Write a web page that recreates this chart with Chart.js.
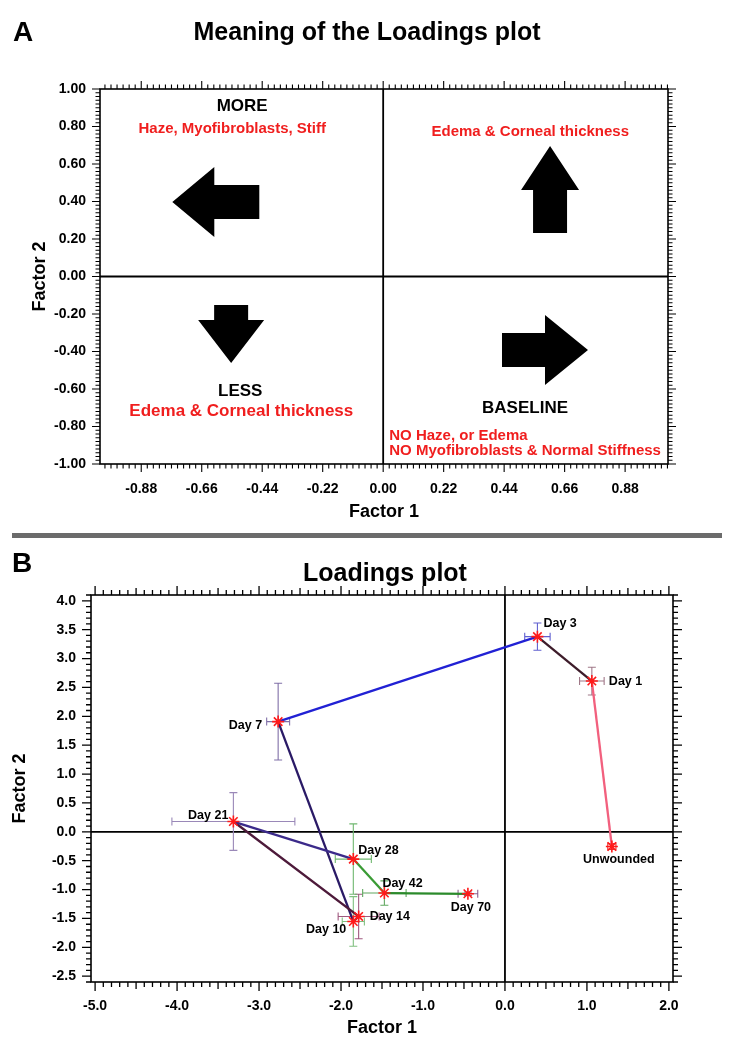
<!DOCTYPE html>
<html><head><meta charset="utf-8">
<script src="https://cdn.jsdelivr.net/npm/chart.js@4.4.1/dist/chart.umd.min.js"></script>
<style>
html,body{margin:0;padding:0;background:#fff;}
#wrap{position:relative;width:738px;height:1050px;overflow:hidden;background:#fff;}
#cA{position:absolute;left:0;top:0;}
#cB{position:absolute;left:0;top:540px;}
#sep{position:absolute;left:12px;top:533px;width:710px;height:5px;background:#6b6b6b;}
</style></head><body>
<div id="wrap">
<canvas id="cA" width="738" height="530"></canvas>
<div id="sep"></div>
<canvas id="cB" width="738" height="510"></canvas>
</div>
<script>
// ---------- Panel A data ----------
const aXTicks = [-0.88, -0.66, -0.44, -0.22, 0.00, 0.22, 0.44, 0.66, 0.88];
const aYTicks = [-1.00, -0.80, -0.60, -0.40, -0.20, 0.00, 0.20, 0.40, 0.60, 0.80, 1.00];
const aArrowDir  = ['left', 'up', 'down', 'right'];
const aArrowTipX = [-0.767, 0.607, -0.553, 0.745];
const aArrowTipY = [0.397, 0.696, -0.461, -0.392];
const aNotes = ['MORE', 'Haze, Myofibroblasts, Stiff', 'Edema & Corneal thickness', 'LESS',
                'Edema & Corneal thickness', 'BASELINE', 'NO Haze, or Edema', 'NO Myofibroblasts & Normal Stiffness'];
const aNoteX = [-0.513, -0.549, 0.535, -0.520, -0.516, 0.516, 0.022, 0.022];
const aNoteY = [0.909, 0.787, 0.771, -0.611, -0.717, -0.701, -0.851, -0.931];

// ---------- Panel B data ----------
const bLabels = ['Unwounded', 'Day 1', 'Day 3', 'Day 7', 'Day 10', 'Day 14', 'Day 21', 'Day 28', 'Day 42', 'Day 70'];
const bFactor1 = [1.304, 1.060, 0.396, -2.767, -1.850, -1.785, -3.313, -1.850, -1.471, -0.452];
const bFactor2 = [-0.254, 2.610, 3.379, 1.908, -1.552, -1.465, 0.178, -0.472, -1.060, -1.073];
const bFactor1Err = [0.05, 0.15, 0.155, 0.14, 0.135, 0.25, 0.75, 0.22, 0.265, 0.12];
const bFactor2Err = [0.05, 0.24, 0.235, 0.665, 0.43, 0.385, 0.50, 0.61, 0.21, 0.03];
const bXTicks = [-5.0, -4.0, -3.0, -2.0, -1.0, 0.0, 1.0, 2.0];
const bYTicks = [-2.5, -2.0, -1.5, -1.0, -0.5, 0.0, 0.5, 1.0, 1.5, 2.0, 2.5, 3.0, 3.5, 4.0];

// ---------- styles ----------
const FONT = '"Liberation Sans", Arial, Helvetica, sans-serif';
const RED = '#f01e1e';
const arrowStyle = [
  {len: 87, head: 42, headHalf: 35, shaftHalf: 17},
  {len: 87, head: 44, headHalf: 29, shaftHalf: 17},
  {len: 58, head: 43, headHalf: 33, shaftHalf: 17},
  {len: 86, head: 43, headHalf: 35, shaftHalf: 17}
];
const noteStyle = [
  {color: '#000', size: 17, align: 'center'},
  {color: RED, size: 15, align: 'center'},
  {color: RED, size: 15, align: 'center'},
  {color: '#000', size: 17, align: 'center'},
  {color: RED, size: 17, align: 'center'},
  {color: '#000', size: 17, align: 'center'},
  {color: RED, size: 15, align: 'left'},
  {color: RED, size: 15, align: 'left'}
];
const segColors = ['#f2607e', '#3d1c2a', '#2121d4', '#2a1a66', '#4d1a3a', '#4d1a3a', '#3b2a8a', '#3a9b35', '#2b8a2b'];
const errColors = ['#e83030', '#a07888', '#6060d0', '#8070a8', '#80c080', '#a05a80', '#9a88b8', '#70b870', '#60a860', '#8a6090'];
const labelOffsets = [
  {dx: 7, dy: 13, align: 'center'},
  {dx: 17, dy: 0, align: 'left'},
  {dx: 6, dy: -13, align: 'left'},
  {dx: -16, dy: 4, align: 'right'},
  {dx: -7, dy: 8, align: 'right'},
  {dx: 11, dy: 0, align: 'left'},
  {dx: -5, dy: -6, align: 'right'},
  {dx: 5, dy: -9, align: 'left'},
  {dx: -2, dy: -10, align: 'left'},
  {dx: 3, dy: 14, align: 'center'}
];

// ---------- helpers ----------
function multiples(min, max, step) {
  const out = [];
  const k0 = Math.ceil(min / step - 1e-9), k1 = Math.floor(max / step + 1e-9);
  for (let k = k0; k <= k1; k++) out.push(k * step);
  return out;
}
function isMult(v, step) { const r = v / step; return Math.abs(r - Math.round(r)) < 1e-6; }

const frameTicks = {
  id: 'frameTicks',
  beforeDatasetsDraw(chart, args, o) {
    const {ctx, chartArea: a, scales: {x, y}} = chart;
    ctx.save();
    ctx.strokeStyle = '#000';
    ctx.lineWidth = o.zeroWidth;
    const px = x.getPixelForValue(0), py = y.getPixelForValue(0);
    ctx.beginPath();
    ctx.moveTo(px, a.top); ctx.lineTo(px, a.bottom);
    ctx.moveTo(a.left, py); ctx.lineTo(a.right, py);
    ctx.stroke();
    ctx.restore();
  },
  afterDatasetsDraw(chart, args, o) {
    const {ctx, chartArea: a, scales: {x, y}} = chart;
    ctx.save();
    ctx.strokeStyle = '#000';
    ctx.lineWidth = o.tickWidth;
    ctx.beginPath();
    multiples(x.min, x.max, o.xMinor).forEach(v => {
      const p = x.getPixelForValue(v);
      const L = isMult(v, o.xMajor) ? o.majorLen : (o.xMid && isMult(v, o.xMid) ? o.midLen : o.minorLen);
      ctx.moveTo(p, a.bottom); ctx.lineTo(p, a.bottom + L);
      ctx.moveTo(p, a.top); ctx.lineTo(p, a.top - L);
    });
    multiples(y.min, y.max, o.yMinor).forEach(v => {
      const p = y.getPixelForValue(v);
      const L = isMult(v, o.yMajor) ? o.majorLen : o.minorLen;
      ctx.moveTo(a.left, p); ctx.lineTo(a.left - L, p);
      ctx.moveTo(a.right, p); ctx.lineTo(a.right + L, p);
    });
    ctx.stroke();
    ctx.lineWidth = o.frameWidth;
    ctx.strokeRect(a.left, a.top, a.right - a.left, a.bottom - a.top);
    ctx.restore();
  }
};

const figureText = {
  id: 'figureText',
  afterDraw(chart, args, o) {
    const ctx = chart.ctx;
    ctx.save();
    ctx.fillStyle = '#000';
    ctx.textBaseline = 'middle';
    ctx.textAlign = 'center';
    ctx.font = 'bold 28px ' + FONT;
    ctx.fillText(o.letter, o.letterX, o.letterY);
    ctx.font = 'bold 25px ' + FONT;
    ctx.fillText(o.title, o.titleX, o.titleY);
    ctx.restore();
  }
};

const arrowsNotes = {
  id: 'arrowsNotes',
  afterDatasetsDraw(chart) {
    const {ctx, scales: {x, y}} = chart;
    ctx.save();
    ctx.fillStyle = '#000';
    aArrowDir.forEach((dir, i) => {
      const s = arrowStyle[i];
      const tx = x.getPixelForValue(aArrowTipX[i]), ty = y.getPixelForValue(aArrowTipY[i]);
      const d = {left: [-1, 0], right: [1, 0], up: [0, -1], down: [0, 1]}[dir];
      const n = [-d[1], d[0]];
      const bx = tx - d[0] * s.head, by = ty - d[1] * s.head;
      const ex = tx - d[0] * s.len, ey = ty - d[1] * s.len;
      ctx.beginPath();
      ctx.moveTo(tx, ty);
      ctx.lineTo(bx + n[0] * s.headHalf, by + n[1] * s.headHalf);
      ctx.lineTo(bx + n[0] * s.shaftHalf, by + n[1] * s.shaftHalf);
      ctx.lineTo(ex + n[0] * s.shaftHalf, ey + n[1] * s.shaftHalf);
      ctx.lineTo(ex - n[0] * s.shaftHalf, ey - n[1] * s.shaftHalf);
      ctx.lineTo(bx - n[0] * s.shaftHalf, by - n[1] * s.shaftHalf);
      ctx.lineTo(bx - n[0] * s.headHalf, by - n[1] * s.headHalf);
      ctx.closePath();
      ctx.fill();
    });
    ctx.textBaseline = 'middle';
    aNotes.forEach((t, i) => {
      const s = noteStyle[i];
      ctx.fillStyle = s.color;
      ctx.textAlign = s.align;
      ctx.font = 'bold ' + s.size + 'px ' + FONT;
      ctx.fillText(t, x.getPixelForValue(aNoteX[i]), y.getPixelForValue(aNoteY[i]));
    });
    ctx.restore();
  }
};

const errorBars = {
  id: 'errorBars',
  beforeDatasetsDraw(chart) {
    const {ctx, scales: {x, y}} = chart;
    ctx.save();
    ctx.lineWidth = 1.1;
    bLabels.forEach((lab, i) => {
      const cx = x.getPixelForValue(bFactor1[i]), cy = y.getPixelForValue(bFactor2[i]);
      const x1 = x.getPixelForValue(bFactor1[i] - bFactor1Err[i]);
      const x2 = x.getPixelForValue(bFactor1[i] + bFactor1Err[i]);
      const y1 = y.getPixelForValue(bFactor2[i] + bFactor2Err[i]);
      const y2 = y.getPixelForValue(bFactor2[i] - bFactor2Err[i]);
      const cap = 4;
      ctx.strokeStyle = errColors[i];
      ctx.beginPath();
      ctx.moveTo(x1, cy); ctx.lineTo(x2, cy);
      ctx.moveTo(x1, cy - cap); ctx.lineTo(x1, cy + cap);
      ctx.moveTo(x2, cy - cap); ctx.lineTo(x2, cy + cap);
      ctx.moveTo(cx, y1); ctx.lineTo(cx, y2);
      ctx.moveTo(cx - cap, y1); ctx.lineTo(cx + cap, y1);
      ctx.moveTo(cx - cap, y2); ctx.lineTo(cx + cap, y2);
      ctx.stroke();
    });
    ctx.restore();
  },
  afterDatasetsDraw(chart) {
    const {ctx} = chart;
    const meta = chart.getDatasetMeta(0);
    ctx.save();
    ctx.fillStyle = '#000';
    ctx.textBaseline = 'middle';
    ctx.font = 'bold 12.5px ' + FONT;
    bLabels.forEach((lab, i) => {
      const el = meta.data[i];
      const o = labelOffsets[i];
      ctx.textAlign = o.align;
      ctx.fillText(lab, el.x + o.dx, el.y + o.dy);
    });
    ctx.restore();
  }
};

function axis(opts) {
  return {
    type: 'linear',
    min: opts.min, max: opts.max,
    afterBuildTicks: s => { s.ticks = opts.ticks.map(v => ({value: v})); },
    afterFit: s => { if (opts.width != null) s.width = opts.width; if (opts.height != null) s.height = opts.height; },
    grid: {display: false, drawTicks: false},
    border: {display: false},
    ticks: {
      autoSkip: false, maxRotation: 0, minRotation: 0,
      padding: opts.pad,
      color: '#000',
      font: {family: FONT, size: 14, weight: 'bold'},
      callback: v => Number(v).toFixed(opts.dec)
    },
    title: {
      display: true, text: opts.title, color: '#000',
      font: {family: FONT, size: 18, weight: 'bold'},
      padding: opts.titlePad
    }
  };
}

// ---------- Chart A ----------
new Chart(document.getElementById('cA'), {
  type: 'scatter',
  data: {datasets: []},
  options: {
    responsive: false, animation: false, events: [],
    layout: {padding: {left: 0, right: 70, top: 89, bottom: 0}},
    plugins: {
      legend: {display: false}, tooltip: {enabled: false},
      frameTicks: {xMinor: 0.022, xMajor: 0.22, yMinor: 0.02, yMajor: 0.2,
                   majorLen: 8, minorLen: 4.5, tickWidth: 1.1, frameWidth: 1.6, zeroWidth: 1.8},
      figureText: {letter: 'A', letterX: 23, letterY: 33, title: 'Meaning of the Loadings plot', titleX: 367, titleY: 33}
    },
    scales: {
      x: axis({min: -1.03, max: 1.036, ticks: aXTicks, dec: 2, pad: 17, height: 66, title: 'Factor 1', titlePad: {top: 0, bottom: 7}}),
      y: axis({min: -1, max: 1, ticks: aYTicks, dec: 2, pad: 14, width: 100, title: 'Factor 2', titlePad: {top: 29, bottom: 0}})
    }
  },
  plugins: [frameTicks, arrowsNotes, figureText]
});

// ---------- Chart B ----------
new Chart(document.getElementById('cB'), {
  type: 'scatter',
  data: {
    datasets: [{
      data: bFactor1.map((v, i) => ({x: v, y: bFactor2[i]})),
      showLine: true,
      borderWidth: 2.3,
      segment: {borderColor: c => segColors[c.p0DataIndex]},
      pointStyle: 'star',
      pointRadius: 6,
      pointBorderWidth: 1.6,
      pointBorderColor: '#ff1a1a',
      pointBackgroundColor: '#ff1a1a',
      clip: false
    }]
  },
  options: {
    responsive: false, animation: false, events: [],
    layout: {padding: {left: 0, right: 65, top: 55, bottom: 0}},
    plugins: {
      legend: {display: false}, tooltip: {enabled: false},
      frameTicks: {xMinor: 0.1, xMajor: 1, xMid: 0.5, yMinor: 0.1, yMajor: 0.5,
                   majorLen: 9, midLen: 7, minorLen: 5, tickWidth: 1.3, frameWidth: 1.6, zeroWidth: 1.8},
      figureText: {letter: 'B', letterX: 22, letterY: 24, title: 'Loadings plot', titleX: 385, titleY: 34}
    },
    scales: {
      x: axis({min: -5.05, max: 2.05, ticks: bXTicks, dec: 1, pad: 16, height: 68, title: 'Factor 1', titlePad: {top: 0, bottom: 11}}),
      y: axis({min: -2.6, max: 4.1, ticks: bYTicks, dec: 1, pad: 15, width: 91, title: 'Factor 2', titlePad: {top: 9, bottom: 0}})
    }
  },
  plugins: [frameTicks, errorBars, figureText]
});
</script>
</body></html>
